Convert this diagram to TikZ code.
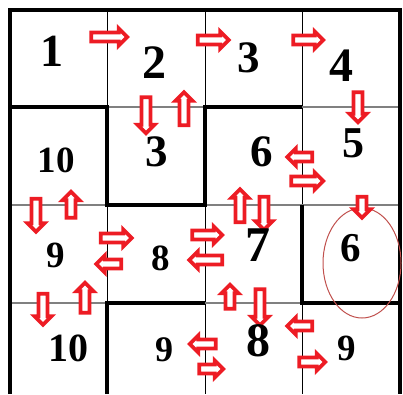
\documentclass[tikz,border=0pt]{standalone}
\usepackage{fontspec}
\setmainfont{Liberation Serif}
\usetikzlibrary{shapes.arrows,shapes.geometric}
\definecolor{arrred}{RGB}{237,28,36}
\definecolor{ringcol}{RGB}{192,80,77}
\definecolor{gridgray}{RGB}{128,128,128}
\tikzset{
  num/.style   ={inner sep=0pt, font=\bfseries\fontsize{#1}{#1}\selectfont},
  arr/.style   ={single arrow, draw=arrred, fill=white, line width=3.8pt,
                 inner sep=2.6pt, minimum width=14pt, single arrow head extend=4pt,
                 minimum height=#1},
  rarr/.style  ={arr=#1, shape border rotate=0},
  larr/.style  ={arr=#1, shape border rotate=180},
  uarr/.style  ={arr=#1, shape border rotate=90},
  darr/.style  ={arr=#1, shape border rotate=270},
  wall/.style  ={line width=4pt, line join=miter},
  thinv/.style ={line width=0.8pt, black},
  thinh/.style ={line width=1.2pt, gridgray},
}
\begin{document}
\begin{tikzpicture}[x=1pt,y=-1pt]
    \useasboundingbox (0,0) rectangle (403,394);

    % grid
    \foreach \x in {107,205,302} \draw[thinv] (\x,10) -- (\x,394);
    \foreach \y in {107,205,303} \draw[thinh] (10,\y) -- (399.5,\y);

    % walls
    \draw[wall] (10,394) -- (10,10) -- (399.5,10) -- (399.5,394);
    \draw[wall] (10,107) -- (107,107) -- (107,205) -- (205,205) -- (205,107) -- (302,107);
    \draw[wall] (302,205) -- (302,303) -- (399.5,303);
    \draw[wall] (107,394) -- (107,303) -- (205,303);

    % ring
    \node[ellipse, draw=ringcol, line width=1pt, minimum width=78pt, minimum height=110pt]
      (ring) at (362,263) {};

    % arrows
    \node[rarr=36] (a1)  at (107,37)  {};
    \node[rarr=31] (a2)  at (211,40)  {};
    \node[rarr=30] (a3)  at (306,40)  {};
    \node[darr=30] (a4)  at (358,105) {};
    \node[darr=36] (a5)  at (146,113) {};
    \node[uarr=33] (a6)  at (184,111) {};
    \node[larr=25] (a7)  at (302,157) {};
    \node[rarr=32] (a8)  at (305,181) {};
    \node[darr=21] (a9)  at (362,205) {};
    \node[uarr=33] (a10) at (240,208) {};
    \node[darr=33] (a11) at (264,211) {};
    \node[darr=33] (a12) at (36,213)  {};
    \node[uarr=26] (a13) at (71,207)  {};
    \node[rarr=31] (a14) at (114,238) {};
    \node[larr=25] (a15) at (111,264) {};
    \node[rarr=30] (a16) at (205,235) {};
    \node[larr=33] (a17) at (208,260) {};
    \node[darr=31] (a18) at (43,307)  {};
    \node[uarr=30] (a19) at (85,300)  {};
    \node[uarr=24] (a20) at (230,299) {};
    \node[darr=36] (a21) at (260,305) {};
    \node[larr=25] (a22) at (302,326) {};
    \node[rarr=26] (a23) at (310,362) {};
    \node[larr=26] (a24) at (205,344) {};
    \node[rarr=24] (a25) at (209,369) {};

    % numbers
    \node[num=46] (r1c1) at (52,51)   {1};
    \node[num=48] (r1c2) at (154,63)  {2};
    \node[num=45] (r1c3) at (249,58)  {3};
    \node[num=48] (r1c4) at (341,66)  {4};
    \node[num=37] (r2c1) at (56,160)  {10};
    \node[num=45] (r2c2) at (157,152) {3};
    \node[num=45] (r2c3) at (262,152) {6};
    \node[num=44] (r2c4) at (353,143) {5};
    \node[num=37] (r3c1) at (56,255)  {9};
    \node[num=37] (r3c2) at (161,258) {8};
    \node[num=50] (r3c3) at (258,245) {7};
    \node[num=41] (r3c4) at (351,248) {6};
    \node[num=40] (r4c1) at (68,348)  {10};
    \node[num=36] (r4c2) at (164,350) {9};
    \node[num=48] (r4c3) at (258,341) {8};
    \node[num=37] (r4c4) at (347,348) {9};
  \end{tikzpicture}
\end{document}
